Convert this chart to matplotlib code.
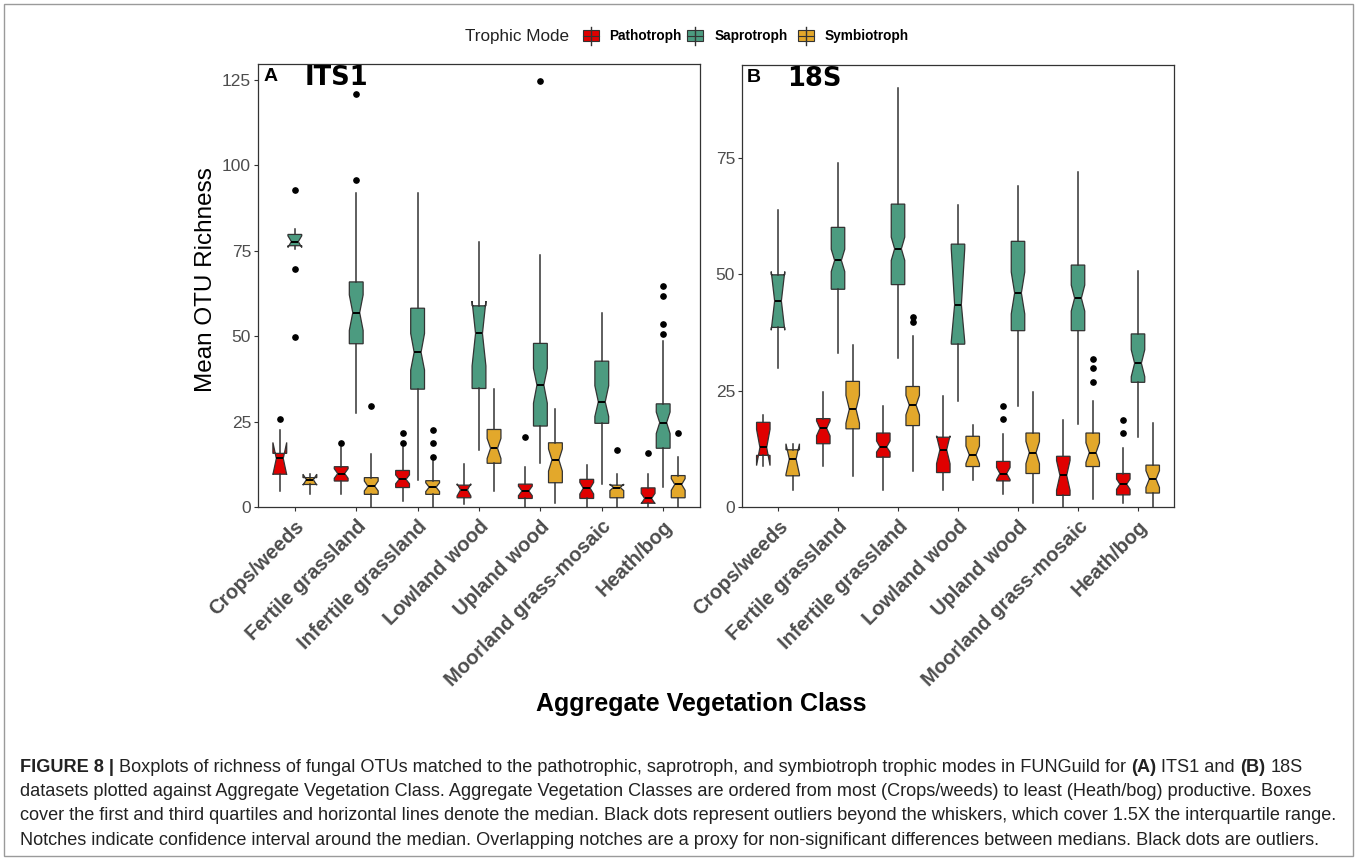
import numpy as np
import matplotlib
matplotlib.use("Agg")
import matplotlib.pyplot as plt
from matplotlib.patches import Rectangle

plt.rcParams['font.family'] = ['Liberation Sans', 'DejaVu Sans']

classes = ["Crops/weeds", "Fertile grassland", "Infertile grassland", "Lowland wood",
           "Upland wood", "Moorland grass-mosaic", "Heath/bog"]
modes = ["Pathotroph", "Saprotroph", "Symbiotroph"]
colors = ["#E00000", "#4C9B80", "#E3A82B"]

# each row: whislo, q1, med, q3, whishi, cilo, cihi
its1_patho = [[4.8, 9.6, 14.2, 15.7, 22.5, 9.5, 18.9],
              [3.7, 7.6, 9.8, 11.8, 17.6, 8.4, 11.2],
              [1.8, 5.7, 8.1, 10.7, 17.7, 6.8, 9.4],
              [0.9, 2.7, 5.0, 6.4, 12.5, 3.2, 6.8],
              [0.0, 2.5, 4.7, 6.7, 11.6, 3.3, 6.1],
              [0.0, 2.5, 5.5, 8.1, 12.4, 3.8, 7.2],
              [0.0, 1.1, 2.5, 5.6, 9.6, 1.0, 4.0]]
its1_patho_out = [[25.7], [18.7], [18.6, 21.8], [], [20.6], [], [15.7]]

its1_sapro = [[75.5, 76.5, 77.7, 79.8, 81.4, 76.0, 79.4],
              [27.6, 47.8, 56.9, 65.9, 91.8, 51.7, 62.1],
              [7.9, 34.5, 45.3, 58.2, 91.8, 40.1, 50.8],
              [16.7, 34.7, 50.8, 58.9, 77.7, 41.3, 60.3],
              [12.8, 23.7, 35.7, 47.9, 73.8, 30.4, 40.6],
              [6.7, 24.5, 30.8, 42.7, 56.7, 26.5, 35.5],
              [5.8, 17.2, 24.7, 30.2, 48.6, 21.5, 27.8]]
its1_sapro_out = [[92.8, 69.8, 49.8], [95.7, 120.8], [], [], [124.8], [],
                  [50.7, 53.7, 61.8, 64.7]]

its1_symbio = [[3.7, 6.6, 8.0, 8.6, 9.7, 6.4, 9.6],
               [0.0, 3.7, 6.1, 8.6, 15.5, 4.7, 7.6],
               [0.0, 3.7, 5.8, 7.7, 13.6, 4.5, 7.1],
               [4.8, 12.8, 17.2, 22.7, 34.5, 14.2, 20.1],
               [1.2, 7.1, 13.8, 18.8, 28.6, 10.5, 17.0],
               [0.0, 2.7, 5.7, 6.4, 9.6, 4.8, 6.7],
               [0.0, 2.7, 6.6, 9.2, 14.5, 4.9, 8.3]]
its1_symbio_out = [[], [29.7], [14.6, 18.6, 22.5], [], [], [16.7], [21.8]]

s18_patho = [[8.9, 11.1, 12.8, 18.2, 19.8, 8.9, 16.7],
             [8.9, 13.6, 16.9, 19.0, 24.8, 15.3, 18.5],
             [3.7, 10.7, 12.9, 15.9, 21.8, 11.8, 14.2],
             [3.7, 7.4, 12.3, 15.0, 23.8, 9.3, 15.3],
             [2.9, 5.6, 7.2, 9.8, 15.7, 5.9, 8.5],
             [0.0, 2.5, 6.8, 10.9, 18.8, 3.6, 10.0],
             [0.9, 2.6, 4.9, 7.2, 12.7, 3.8, 6.0]]
s18_patho_out = [[], [], [], [], [18.9, 21.8], [], [15.8, 18.8]]

s18_sapro = [[29.9, 38.6, 44.3, 49.9, 63.9, 38.0, 50.6],
             [33.1, 46.8, 53.0, 60.1, 74.0, 50.6, 55.4],
             [32.0, 47.8, 55.5, 65.1, 90.0, 53.0, 58.0],
             [22.8, 35.0, 43.5, 56.5, 64.9, 35.5, 55.5],
             [21.8, 37.9, 46.0, 57.1, 68.9, 41.5, 50.5],
             [17.8, 37.9, 44.9, 52.0, 72.0, 42.1, 47.7],
             [15.0, 26.8, 30.9, 37.2, 50.8, 28.0, 33.8]]
s18_sapro_out = [[], [], [], [], [], [], []]

s18_symbio = [[3.7, 6.7, 10.3, 12.3, 13.6, 7.0, 13.6],
              [6.7, 16.8, 21.0, 27.0, 34.9, 18.0, 24.0],
              [7.8, 17.5, 21.9, 25.9, 36.8, 19.8, 24.0],
              [5.9, 8.7, 11.2, 15.2, 17.7, 9.3, 13.1],
              [0.9, 7.2, 11.7, 15.9, 24.7, 9.3, 14.1],
              [1.7, 8.7, 11.7, 15.9, 22.7, 9.6, 13.8],
              [0.0, 3.0, 6.0, 9.0, 18.0, 4.2, 7.8]]
s18_symbio_out = [[], [], [39.8, 40.9], [], [], [26.9, 29.8, 31.8], []]

caption = [
    [("FIGURE 8 |", "bold"), ("Boxplots of richness of fungal OTUs matched to the pathotrophic, saprotroph, "
                              "and symbiotroph trophic modes in FUNGuild for", "normal"),
     ("(A)", "bold"), ("ITS1 and", "normal"), ("(B)", "bold"), ("18S", "normal")],
    [("datasets plotted against Aggregate Vegetation Class. Aggregate Vegetation Classes are ordered from most "
      "(Crops/weeds) to least (Heath/bog) productive. Boxes", "normal")],
    [("cover the first and third quartiles and horizontal lines denote the median. Black dots represent outliers "
      "beyond the whiskers, which cover 1.5X the interquartile range.", "normal")],
    [("Notches indicate confidence interval around the median. Overlapping notches are a proxy for "
      "non-significant differences between medians. Black dots are outliers.", "normal")],
]

W, H = 1358, 860
fig = plt.figure(figsize=(W / 100, H / 100), dpi=100)


def to_stats(rows, outs):
    keys = ["whislo", "q1", "med", "q3", "whishi", "cilo", "cihi"]
    return [dict(zip(keys, r), fliers=np.array(o)) for r, o in zip(rows, outs)]


def panel(rect, groups, ylim, yticks, tag, title):
    ax = fig.add_axes(rect)
    x = np.arange(len(classes))
    for k, (rows, outs) in enumerate(groups):
        ax.bxp(to_stats(rows, outs), positions=x + (k - 1) * 0.245, widths=0.225,
               patch_artist=True, shownotches=True, showcaps=False,
               boxprops=dict(facecolor=colors[k], edgecolor="#333333", linewidth=0.9),
               whiskerprops=dict(color="#333333", linewidth=1.1),
               medianprops=dict(color="black", linewidth=1.4),
               flierprops=dict(marker="o", markerfacecolor="black", markeredgecolor="black",
                               markersize=3.8))
    ax.set_xlim(-0.6, 6.6)
    ax.set_ylim(*ylim)
    ax.set_yticks(yticks)
    ax.set_xticks(x)
    ax.set_xticklabels(classes, rotation=45, ha="right", va="top", rotation_mode="anchor",
                       fontsize=14.5, fontweight="bold", color="#4D4D4D")
    ax.tick_params(axis="both", direction="out", length=3, color="#333333", width=0.8)
    ax.tick_params(axis="y", labelsize=12.5, labelcolor="#4D4D4D", pad=2)
    ax.tick_params(axis="x", pad=4)
    for s in ax.spines.values():
        s.set_color("#333333")
        s.set_linewidth(0.9)
    ax.text(0.012, 0.99, tag, transform=ax.transAxes, fontsize=14, fontweight="bold",
            ha="left", va="top")
    ax.text(0.105, 0.997, title, transform=ax.transAxes, fontsize=18.5, fontweight="bold",
            family="DejaVu Sans", ha="left", va="top")
    return ax


def fx(px):
    return px / W


def fy(py):
    return 1 - py / H


axA = panel([fx(258), fy(507), fx(700 - 258), (507 - 64) / H],
            [(its1_patho, its1_patho_out), (its1_sapro, its1_sapro_out), (its1_symbio, its1_symbio_out)],
            (0, 129.7), [0, 25, 50, 75, 100, 125], "A", "ITS1")
axB = panel([fx(742), fy(507), fx(1174 - 742), (507 - 65) / H],
            [(s18_patho, s18_patho_out), (s18_sapro, s18_sapro_out), (s18_symbio, s18_symbio_out)],
            (0, 95.0), [0, 25, 50, 75], "B", "18S")

# overlay in pixel coordinates for legend, labels, caption and frame
ov = fig.add_axes([0, 0, 1, 1], zorder=-1)
ov.set_xlim(0, W)
ov.set_ylim(H, 0)
ov.axis("off")
ov.add_patch(Rectangle((4, 4), W - 9, H - 8, fill=False, edgecolor="#9A9A9A", linewidth=1))

ov.text(206, 280, "Mean OTU Richness", rotation=90, ha="center", va="center", fontsize=17.5)
ov.text(701, 704, "Aggregate Vegetation Class", ha="center", va="center", fontsize=18,
        fontweight="bold")

# legend
ov.text(465, 36, "Trophic Mode", ha="left", va="center", fontsize=12.3, color="#222222")
for k, (lx, tx) in enumerate([(583, 609), (687, 715), (798, 825)]):
    ov.plot([lx + 8, lx + 8], [27, 45], color="#333333", lw=1)
    ov.add_patch(Rectangle((lx, 30), 16, 11, facecolor=colors[k], edgecolor="#333333", lw=0.8))
    ov.plot([lx, lx + 16], [35.5, 35.5], color="#333333", lw=0.8)
    ov.text(tx, 36, modes[k], ha="left", va="center", fontsize=9.8, fontweight="bold")

# caption with mixed weights
r = fig.canvas.get_renderer()
cap_size = 13.1
space = cap_size * 1.389 * 0.278
for i, parts in enumerate(caption):
    x = 20
    y = 767 + i * 24.5
    for s, w in parts:
        t = ov.text(x, y, s, ha="left", va="center", fontsize=cap_size, fontweight=w, color="#222222")
        bb = t.get_window_extent(renderer=r)
        x += bb.width + space

fig.savefig("out.png", dpi=100)
